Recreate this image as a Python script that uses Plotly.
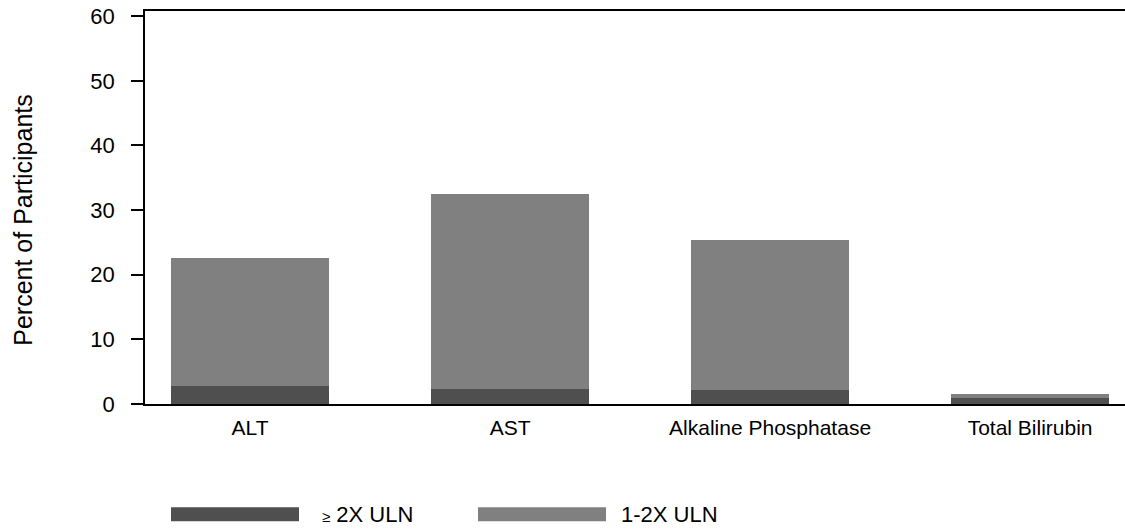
import plotly.graph_objects as go

categories = ["ALT", "AST", "Alkaline Phosphatase", "Total Bilirubin"]
geq_2x_uln = [2.8, 2.3, 2.2, 0.9]
one_to_2x_uln = [19.8, 30.2, 23.1, 0.6]
series_names = ["\u2265 2X ULN", "1-2X ULN"]
y_ticks = [0, 10, 20, 30, 40, 50, 60]

DARK = "#4f4f4f"
LIGHT = "#808080"
FONT = "Liberation Sans, Arial, sans-serif"

fig = go.Figure()
fig.add_trace(go.Bar(x=categories, y=geq_2x_uln, name=series_names[0],
                     marker=dict(color=DARK, line=dict(width=0)), width=0.61))
fig.add_trace(go.Bar(x=categories, y=one_to_2x_uln, name=series_names[1],
                     marker=dict(color=LIGHT, line=dict(width=0)), width=0.61))

W, H = 1125, 529
L, R, T, B = 145, 0, 11, 124.5
pw = W - L - R
ph = H - T - B

def px_x(x):
    return (x - L) / pw

def px_y(y):
    return (H - B - y) / ph

fig.update_layout(
    width=W, height=H,
    barmode="stack",
    showlegend=False,
    plot_bgcolor="white", paper_bgcolor="white",
    margin=dict(l=L, r=R, t=T, b=B, pad=0),
    font=dict(family=FONT, size=21, color="black"),
    xaxis=dict(
        type="category",
        range=[-0.404, 3.365],
        showline=True, linecolor="black", linewidth=1.5, mirror=True,
        ticks="", ticklabelstandoff=4,
        showgrid=False, zeroline=False,
        tickfont=dict(family=FONT, size=21, color="black"),
    ),
    yaxis=dict(
        range=[0, 60.8],
        tickvals=y_ticks,
        showline=True, linecolor="black", linewidth=1.5,
        ticks="outside", ticklen=12, tickwidth=1.5, tickcolor="black",
        ticklabelstandoff=12,
        showgrid=False, zeroline=False,
        tickfont=dict(family=FONT, size=22, color="black"),
    ),
)

# y-axis title
fig.add_annotation(text="Percent of Participants", xref="paper", yref="paper",
                   x=px_x(23), y=px_y(220), textangle=-90, showarrow=False,
                   xanchor="center", yanchor="middle",
                   font=dict(family=FONT, size=25, color="black"))

# custom legend
legend_labels = ["<span style='font-size:15px'>\u2265</span> 2X ULN", "1-2X ULN"]
legend_items = [
    (legend_labels[0], DARK, 171, 299, 320),
    (legend_labels[1], LIGHT, 478, 606, 619),
]
for name, color, x0, x1, tx in legend_items:
    fig.add_shape(type="rect", xref="paper", yref="paper",
                  x0=px_x(x0), x1=px_x(x1), y0=px_y(508), y1=px_y(522),
                  fillcolor=color, line=dict(width=0))
    fig.add_annotation(text=name, xref="paper", yref="paper",
                       x=px_x(tx), y=px_y(515), showarrow=False,
                       xanchor="left", yanchor="middle",
                       font=dict(family=FONT, size=22, color="black"))

fig.write_html("out.html", config={"displayModeBar": False},
               post_script="document.body.style.margin='0';document.body.style.padding='0';")
